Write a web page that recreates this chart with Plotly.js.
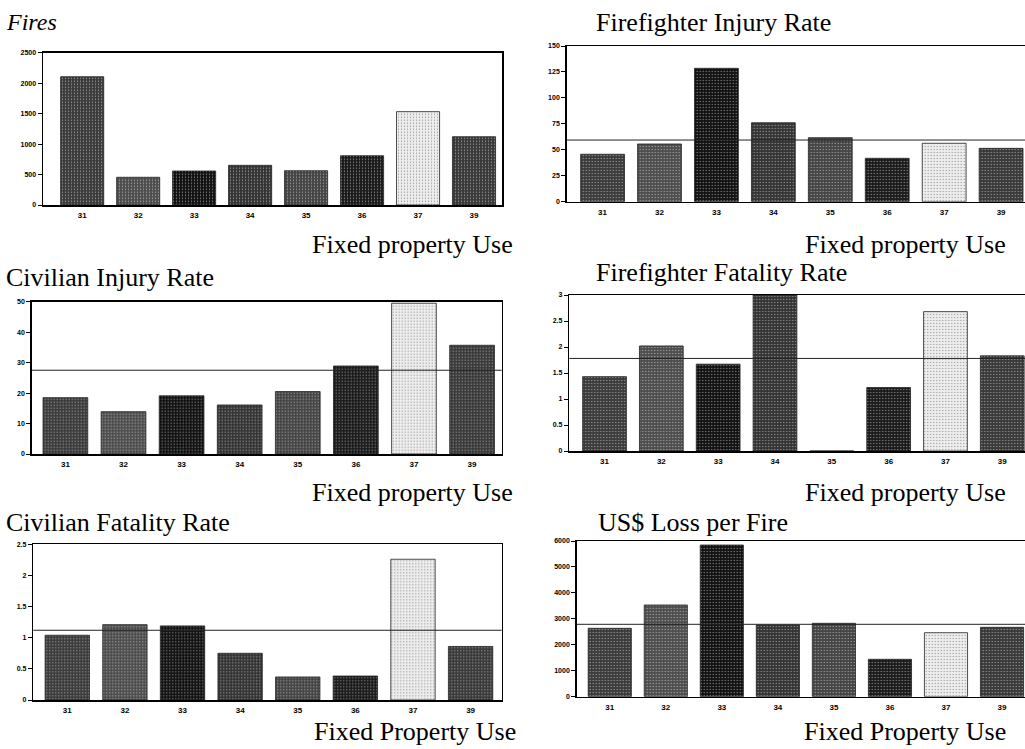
<!DOCTYPE html>
<html>
<head>
<meta charset="utf-8">
<script src="https://cdn.plot.ly/plotly-3.0.1.min.js"></script>
<style>html,body{margin:0;padding:0;background:#fff}#chart{width:1025px;height:749px}</style>
</head>
<body>
<div id="chart"></div>
<script>
// Fixed property use categories
const categories = ['31','32','33','34','35','36','37','39'];
// Series values
const fires        = [2106, 455, 558, 651, 563, 809, 1532, 1121];
const ffInjury     = [45.7, 55.6, 128.5, 76.1, 61.7, 41.8, 56.3, 51.4];
const civInjury    = [18.5, 13.9, 19.1, 16.1, 20.5, 28.9, 49.5, 35.7];
const ffFatality   = [1.43, 2.02, 1.67, 3.0, 0, 1.22, 2.68, 1.83];
const civFatality  = [1.04, 1.21, 1.19, 0.75, 0.37, 0.385, 2.26, 0.86];
const lossPerFire  = [2636, 3534, 5846, 2763, 2828, 1441, 2466, 2674];
// Overall average reference lines
const avgFfInjury = 59.4, avgCivInjury = 27.5, avgFfFatality = 1.78, avgCivFatality = 1.12, avgLoss = 2790;
// Titles
const panelTitles = ['<i>Fires</i>', 'Firefighter Injury Rate', 'Civilian Injury Rate',
                     'Firefighter Fatality Rate', 'Civilian Fatality Rate', 'US$ Loss per Fire'];
const axisNotes = ['Fixed property Use', 'Fixed property Use', 'Fixed property Use',
                   'Fixed property Use', 'Fixed Property Use', 'Fixed Property Use'];
// Y axis ranges / steps
const yRanges = [[0,2500],[0,150],[0,50],[0,3],[0,2.5],[0,6000]];
const yDticks = [500, 25, 10, 0.5, 0.5, 1000];

const W = 1025, H = 749;
const px = v => v / W, py = v => 1 - v / H;

const barBg = ['#3a3a3a', '#4d4d4d', '#111', '#333', '#444', '#1a1a1a', '#eeeeee', '#383838'];
const barFg = ['#9a9a9a', '#a8a8a8', '#4a4a4a', '#909090', '#a0a0a0', '#454545', '#777', '#959595'];

const panels = [
  {y: fires,       x0: 43,    x1: 502,  yb: 205,   yt: 52.7, r0: -0.70, r1: 7.50, avg: null,          mirrorY: true},
  {y: ffInjury,    x0: 566.7, x1: 1025, yb: 201.7, yt: 46,   r0: -0.63, r1: 7.42, avg: avgFfInjury,   mirrorY: false},
  {y: civInjury,   x0: 31.7,  x1: 501.7,yb: 454,   yt: 301.7,r0: -0.58, r1: 7.51, avg: avgCivInjury,  mirrorY: true},
  {y: ffFatality,  x0: 569.3, x1: 1025, yb: 451,   yt: 295,  r0: -0.62, r1: 7.40, avg: avgFfFatality, mirrorY: false},
  {y: civFatality, x0: 33.3,  x1: 501.7,yb: 700,   yt: 544.3,r0: -0.59, r1: 7.54, avg: avgCivFatality,mirrorY: true},
  {y: lossPerFire, x0: 576.7, x1: 1025, yb: 696.7, yt: 541,  r0: -0.59, r1: 7.41, avg: avgLoss,       mirrorY: false}
];

const titlePos  = [[4,22],[594,22],[4,277],[594,273],[4,522],[596,522]];
const titleSize = [24, 26, 26, 26, 26, 26];
const notePos   = [[515,244],[1008,244],[515,492],[1008,492],[518,731],[1008,731]];
const noteSize  = [26, 26, 26, 26, 26, 26];

const data = [], layout = {
  width: W, height: H, margin: {l:0,r:0,t:0,b:0}, showlegend: false,
  paper_bgcolor: '#fff', plot_bgcolor: '#fff',
  font: {family: 'Liberation Serif, Times New Roman, serif', color: '#000'},
  shapes: [], annotations: []
};

panels.forEach((p, i) => {
  const n = i + 1, xa = 'xaxis' + (n === 1 ? '' : n), ya = 'yaxis' + (n === 1 ? '' : n);
  const xr = 'x' + (n === 1 ? '' : n), yr = 'y' + (n === 1 ? '' : n);
  data.push({
    type: 'bar', x: categories, y: p.y, xaxis: xr, yaxis: yr, width: 0.77,
    marker: {color: barBg, line: {color: '#222', width: 0.8},
             pattern: {shape: '.', fillmode: 'overlay', fgcolor: barFg, size: 3, solidity: 0.15}},
    hoverinfo: 'x+y'
  });
  layout[xa] = {domain: [px(p.x0), px(p.x1)], anchor: yr, type: 'category', range: [p.r0, p.r1],
    showline: true, linecolor: '#000', linewidth: 1.5, mirror: true, ticks: '', showgrid: false,
    tickfont: {family: 'Liberation Sans, Arial, sans-serif', size: 8, color: '#000', weight: 'bold'}, ticklabelstandoff: 2};
  layout[ya] = {domain: [py(p.yb), py(p.yt)], anchor: xr, range: yRanges[i], dtick: yDticks[i],
    showline: true, linecolor: '#000', linewidth: 1.5, mirror: p.mirrorY, ticks: 'outside', ticklen: 4, tickcolor: '#000',
    showgrid: false, zeroline: false,
    tickfont: {family: 'Liberation Sans, Arial, sans-serif', size: 7, color: '#000', weight: 'bold'}};
  if (p.avg !== null) {
    layout.shapes.push({type: 'line', xref: xr + ' domain', x0: 0, x1: 1, yref: yr, y0: p.avg, y1: p.avg,
      line: {color: '#222', width: 1}, layer: 'above'});
  }
  layout.annotations.push({text: panelTitles[i], xref: 'paper', yref: 'paper', x: px(titlePos[i][0]), y: py(titlePos[i][1]),
    xanchor: 'left', yanchor: 'middle', showarrow: false, font: {size: titleSize[i], family: 'Liberation Serif, Times New Roman, serif'}});
  layout.annotations.push({text: axisNotes[i], xref: 'paper', yref: 'paper', x: px(notePos[i][0]), y: py(notePos[i][1]),
    xanchor: 'right', yanchor: 'middle', showarrow: false, font: {size: noteSize[i], family: 'Liberation Serif, Times New Roman, serif'}});
});

Plotly.newPlot('chart', data, layout, {staticPlot: true});
</script>
</body>
</html>
